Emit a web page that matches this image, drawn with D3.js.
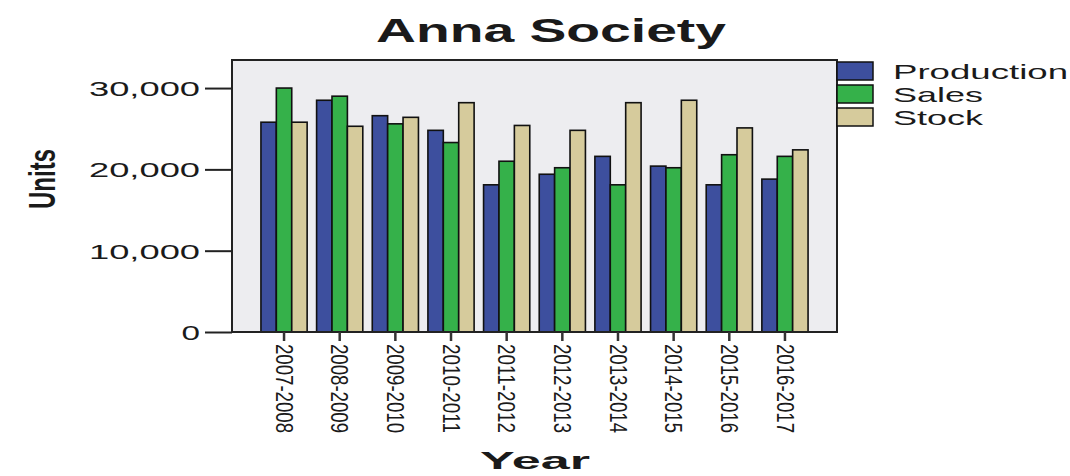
<!DOCTYPE html>
<html>
<head>
<meta charset="utf-8">
<script src="https://cdn.jsdelivr.net/npm/d3@7"></script>
<style>
  html, body { margin: 0; padding: 0; background: #ffffff; }
  svg { display: block; }
  text { font-family: "Liberation Sans", Arial, sans-serif; fill: #1a1a1a; }
</style>
</head>
<body>
<svg id="chart" width="1070" height="476"></svg>
<script>
// Yearly figures for Anna Society (units)
const years = ["2007-2008", "2008-2009", "2009-2010", "2010-2011", "2011-2012",
               "2012-2013", "2013-2014", "2014-2015", "2015-2016", "2016-2017"];
const seriesNames = ["Production", "Sales", "Stock"];
const production = [25800, 28500, 26600, 24800, 18100, 19400, 21600, 20400, 18100, 18800];
const sales      = [30000, 29000, 25600, 23300, 21000, 20200, 18100, 20200, 21800, 21600];
const stock      = [25800, 25300, 26400, 28200, 25400, 24800, 28200, 28500, 25100, 22400];
const yTicks = [0, 10000, 20000, 30000];
const colors = ["#3d4f9e", "#35b14a", "#d6cb9c"];

const svg = d3.select("#chart");
const plot = { left: 232, right: 837, top: 60, bottom: 332 };

const x = d3.scaleBand().domain(years)
  .range([plot.left, plot.right]).paddingInner(0.17).paddingOuter(0.52);
const xs = d3.scaleBand().domain(seriesNames).range([0, x.bandwidth()]);
const y = d3.scaleLinear().domain([0, 33450]).range([plot.bottom, plot.top]);
const color = d3.scaleOrdinal().domain(seriesNames).range(colors);

// plot background
svg.append("rect")
  .attr("x", plot.left).attr("y", plot.top)
  .attr("width", plot.right - plot.left).attr("height", plot.bottom - plot.top)
  .attr("fill", "#ededf0");

// bars
const rows = years.map((yr, i) => ({ year: yr, values: [production[i], sales[i], stock[i]] }));
const groups = svg.append("g").selectAll("g").data(rows).join("g")
  .attr("transform", d => `translate(${x(d.year)},0)`);
groups.selectAll("rect")
  .data(d => d.values.map((v, k) => ({ key: seriesNames[k], value: v })))
  .join("rect")
  .attr("x", d => xs(d.key))
  .attr("y", d => y(d.value))
  .attr("width", xs.bandwidth())
  .attr("height", d => y(0) - y(d.value))
  .attr("fill", d => color(d.key))
  .attr("stroke", "#111")
  .attr("stroke-width", 1.6);

// frame
svg.append("rect")
  .attr("x", plot.left).attr("y", plot.top)
  .attr("width", plot.right - plot.left).attr("height", plot.bottom - plot.top)
  .attr("fill", "none").attr("stroke", "#222").attr("stroke-width", 2);

// y axis
const yAxis = svg.append("g")
  .attr("transform", `translate(${plot.left},0)`)
  .call(d3.axisLeft(y).tickValues(yTicks).tickSize(27).tickPadding(5).tickFormat(d3.format(",")));
yAxis.select(".domain").remove();
yAxis.selectAll(".tick line").attr("stroke", "#222").attr("stroke-width", 2);
yAxis.selectAll(".tick text")
  .attr("font-size", 21)
  .attr("fill", "#1a1a1a")
  .attr("dy", "0.36em")
  .each(function (d) {
    const len = String(d3.format(",")(d)).length;
    d3.select(this).attr("textLength", len * 18.5).attr("lengthAdjust", "spacingAndGlyphs");
  });

// x axis
const xAxis = svg.append("g")
  .attr("transform", `translate(0,${plot.bottom})`)
  .call(d3.axisBottom(x).tickSize(9).tickPadding(3));
xAxis.select(".domain").remove();
xAxis.selectAll(".tick line").attr("stroke", "#333").attr("stroke-width", 2.5);
xAxis.selectAll(".tick text")
  .attr("font-size", 23)
  .attr("fill", "#1a1a1a")
  .attr("text-anchor", "start")
  .attr("transform", "rotate(90)")
  .attr("x", 12).attr("y", 0).attr("dy", "0.36em")
  .attr("textLength", 89).attr("lengthAdjust", "spacingAndGlyphs");

// title
svg.append("text")
  .attr("x", 551).attr("y", 42)
  .attr("text-anchor", "middle")
  .attr("font-size", 33).attr("font-weight", "bold")
  .attr("textLength", 350).attr("lengthAdjust", "spacingAndGlyphs")
  .text("Anna Society");

// axis titles
svg.append("text")
  .attr("x", 535).attr("y", 469)
  .attr("text-anchor", "middle")
  .attr("font-size", 24).attr("font-weight", "bold")
  .attr("textLength", 110).attr("lengthAdjust", "spacingAndGlyphs")
  .text("Year");

svg.append("text")
  .attr("transform", "translate(55,179) rotate(-90)")
  .attr("text-anchor", "middle")
  .attr("font-family", "'Liberation Sans Narrow', 'Liberation Sans', Arial, sans-serif")
  .attr("font-size", 36).attr("font-weight", "bold")
  .attr("textLength", 60).attr("lengthAdjust", "spacingAndGlyphs")
  .text("Units");

// legend
const legend = svg.append("g").attr("transform", "translate(837,62)");
const item = legend.selectAll("g").data(seriesNames).join("g")
  .attr("transform", (d, i) => `translate(0,${i * 23})`);
item.append("rect")
  .attr("width", 36).attr("height", 18)
  .attr("fill", d => color(d))
  .attr("stroke", "#111").attr("stroke-width", 1.5);
item.append("text")
  .attr("x", 56).attr("y", 17)
  .attr("font-size", 21)
  .attr("textLength", d => d === "Production" ? 175 : 90)
  .attr("lengthAdjust", "spacingAndGlyphs")
  .text(d => d);
</script>
</body>
</html>
